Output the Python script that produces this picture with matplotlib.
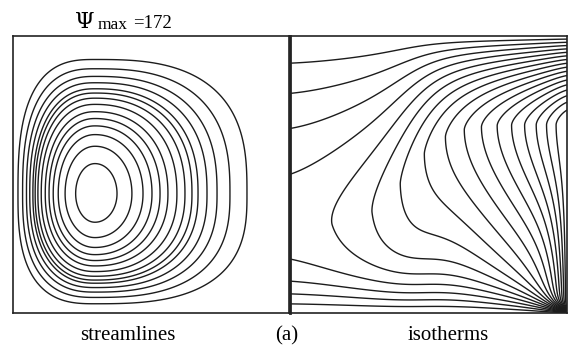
import numpy as np
import matplotlib
matplotlib.use("Agg")
import matplotlib.pyplot as plt

# ---- values ----
psi_max = 172
panel_labels = ["streamlines", "(a)", "isotherms"]
# normalised stream-function levels (1 at the cell centre)
psi_levels = [0.0, 0.112, 0.197, 0.263, 0.322, 0.362, 0.408, 0.461, 0.520, 0.572, 0.625, 0.684, 0.757, 0.855]
temp_levels = list(np.arange(1, 18) / 18.0)

W, H = 568, 346
fig = plt.figure(figsize=(W / 100, H / 100), dpi=100)

def fx(px):
    return px / W

def fy(py):
    return 1 - py / H

n = 361
xs = np.linspace(0, 1, n)
ys = np.linspace(0, 1, n)
X, Y = np.meshgrid(xs, ys)

# ---- stream function: nested superellipses around an eye near the left wall ----
cx, cy = 0.297, 0.431
dxp = (X - cx) * 276.0
dyp = (Y - cy) * 277.0
adx, ady = np.abs(dxp), np.abs(dyp)

def half_axes(r):
    ax_r = 152.0 * r
    ax_l = 152.0 * r / (1 + 0.974 * r)
    ay_t = 228.0 * r / (1 + 0.70 * r)
    ay_b = 228.0 * r / (1 + 1.07 * r)
    return ax_r, ax_l, ay_t, ay_b

lo = np.full(X.shape, 1e-4)
hi = np.full(X.shape, 1.6)
for _ in range(45):
    mid = 0.5 * (lo + hi)
    ar, al, at, ab = half_axes(mid)
    q = 2.0 + 0.8 * np.clip(mid, 0, 1)**2
    sx = np.where(dxp >= 0, adx / ar, adx / al)
    sy = np.where(dyp >= 0, ady / at, ady / ab)
    inside = sx**q + sy**q <= 1.0
    hi = np.where(inside, mid, hi)
    lo = np.where(inside, lo, mid)
psi = 1.0 - 0.5 * (lo + hi)

# ---- temperature: hot right wall, cold top and bottom, adiabatic left wall ----
hI = 0.255 + 0.10 * X + 0.60 * X**2
Wl = np.exp(-(1 - X) / 0.045)
y0 = 0.31 + 0.37 / (1 + np.exp(-(X - 0.42) / 0.07))
u = (1 - Y) / (1 - y0)
above = Y >= y0
R_up = 1 - np.clip(1 - u, 0, 1)**1.6
R_dn = (u * np.exp(1 - u))**0.7
R = np.where(above, R_up, R_dn)
Rw = np.where(above, R_up, 1.0)
core = Wl * Rw + (1 - Wl) * hI * R
db = 0.13 * (1 - X**4) + 0.012
T = np.tanh(Y / db) * core

lc = "#1c1c1c"
ax1 = fig.add_axes([fx(13), fy(313), fx(276), 277 / H])
ax1.contour(X, Y, psi, levels=psi_levels, colors=lc, linewidths=1.0)
ax2 = fig.add_axes([fx(290), fy(313), fx(277), 277 / H])
ax2.contour(X, Y, T, levels=temp_levels, colors=lc, linewidths=1.0)

for ax in (ax1, ax2):
    ax.set_xlim(0, 1)
    ax.set_ylim(0, 1)
    ax.set_xticks([])
    ax.set_yticks([])
    for sp in ax.spines.values():
        sp.set_linewidth(1.2)
        sp.set_color("#222222")
ax2.spines["left"].set_linewidth(2.0)

serif = "Liberation Serif"
fig.text(fx(75), fy(28), "\u03a8", fontsize=16, family="DejaVu Serif", ha="left", va="baseline")
fig.text(fx(98), fy(29), "max", fontsize=12.5, family=serif, ha="left", va="baseline")
fig.text(fx(133), fy(28), f"={psi_max}", fontsize=13.5, family=serif, ha="left", va="baseline")

fig.text(fx(128), fy(340), panel_labels[0], fontsize=15, family=serif, ha="center", va="baseline")
fig.text(fx(287), fy(340), panel_labels[1], fontsize=15, family=serif, ha="center", va="baseline")
fig.text(fx(448), fy(340), panel_labels[2], fontsize=15, family=serif, ha="center", va="baseline")

fig.savefig("out.png", dpi=100)
